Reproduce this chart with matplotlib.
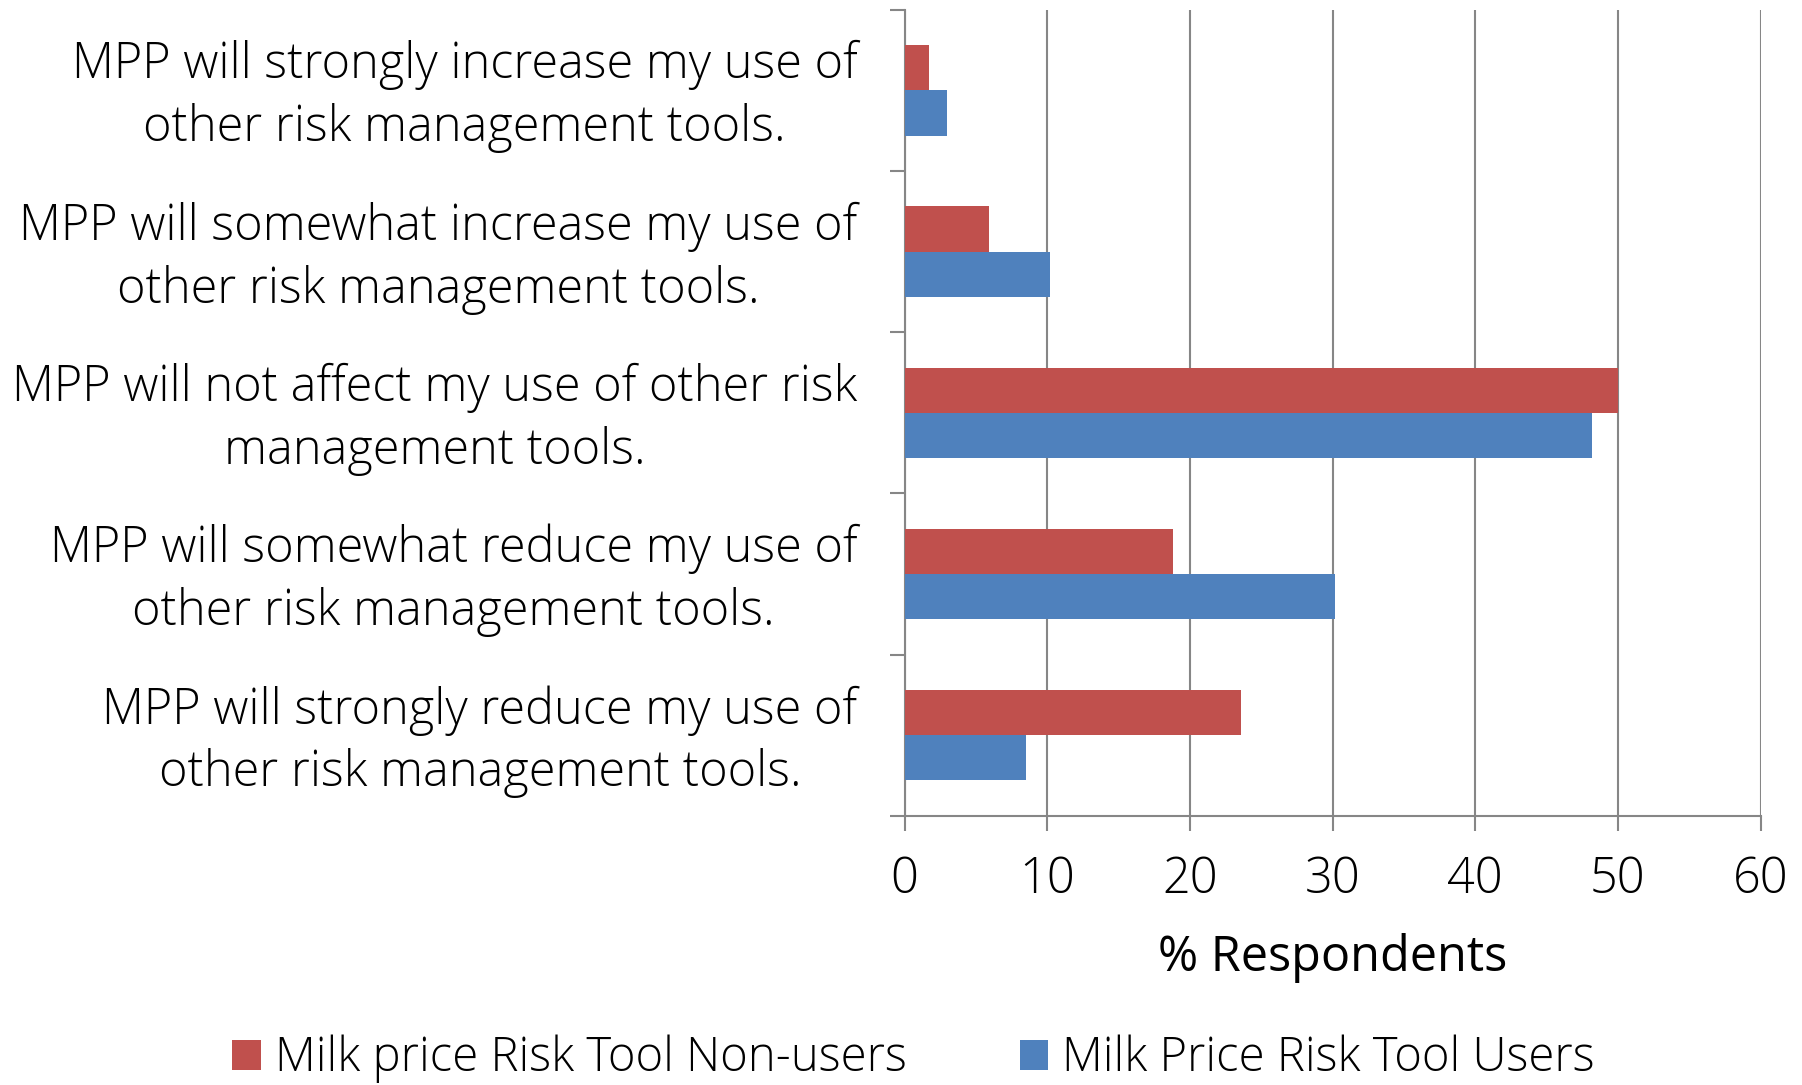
import numpy as np
import matplotlib
matplotlib.use("Agg")
import matplotlib.pyplot as plt
import matplotlib.transforms as mtransforms

categories = [
    "MPP will strongly increase my use of\nother risk management tools.",
    "MPP will somewhat increase my use of\nother risk management tools.",
    "MPP will not affect my use of other risk\nmanagement tools.",
    "MPP will somewhat reduce my use of\nother risk management tools.",
    "MPP will strongly reduce my use of\nother risk management tools.",
]
non_users = [1.7, 5.9, 50.0, 18.8, 23.6]
users = [3.0, 10.2, 48.2, 30.2, 8.5]
x_ticks = [0, 10, 20, 30, 40, 50, 60]

red = "#C0504D"
blue = "#4F81BD"
grey = "#868686"

plt.rcParams["font.family"] = ["Open Sans", "DejaVu Sans"]
plt.rcParams["font.weight"] = 300
fs = 35

fig = plt.figure(figsize=(18.02, 10.85), dpi=100)
ax = fig.add_axes([0.502, 0.248, 0.475, 0.743])

y = np.arange(len(categories))
h = 0.28
ax.barh(y - h / 2, non_users, height=h, color=red, label="Milk price Risk Tool Non-users", zorder=3)
ax.barh(y + h / 2, users, height=h, color=blue, label="Milk Price Risk Tool Users", zorder=3)

ax.set_ylim(len(categories) - 0.5, -0.5)
ax.set_xlim(0, 60)
ax.set_xticks(x_ticks)
ax.set_xticklabels([str(t) for t in x_ticks], fontsize=fs)
ax.set_yticks(y)
ax.set_yticklabels(categories, fontsize=fs, ma="center", linespacing=1.34)
ax.set_yticks(np.arange(-0.5, len(categories)), minor=True)
ax.tick_params(axis="y", which="major", length=0, pad=34)
ax.tick_params(axis="y", which="minor", length=11, width=1.5, color=grey)
ax.tick_params(axis="x", length=11, width=1.5, color=grey, pad=17)

# nudge category labels up a little
shift = mtransforms.ScaledTranslation(0, 6 / 100, fig.dpi_scale_trans)
for lbl in ax.get_yticklabels():
    lbl.set_transform(lbl.get_transform() + shift)

ax.grid(axis="x", color=grey, linewidth=1.5, zorder=0)
for s in ["top", "right"]:
    ax.spines[s].set_visible(False)
for s in ["left", "bottom"]:
    ax.spines[s].set_color(grey)
    ax.spines[s].set_linewidth(1.5)

ax.set_xlabel("% Respondents", fontsize=fs, labelpad=20)

handles, labels = ax.get_legend_handles_labels()
fig.legend(handles, labels, loc="center", bbox_to_anchor=(0.507, 0.024), ncol=2,
           frameon=False, fontsize=34, handlelength=0.6, handleheight=0.6,
           handletextpad=0.3, columnspacing=2.4)

fig.savefig("out.png", dpi=100)
